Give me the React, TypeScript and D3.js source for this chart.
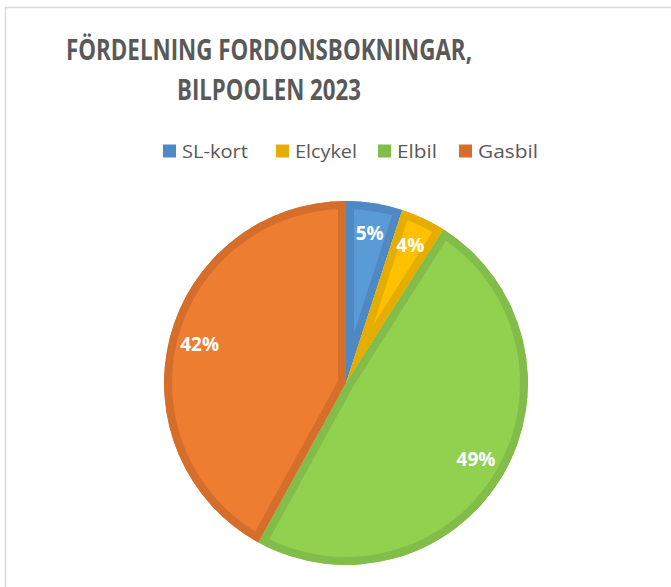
import React from "react";
import * as d3 from "d3";

const categories = ["SL-kort", "Elcykel", "Elbil", "Gasbil"];
const shares = [5, 4, 49, 42];
const fills = ["#5B9BD5", "#FFC000", "#92D050", "#ED7D31"];
const edges = ["#4F89C4", "#E6AC00", "#81BD48", "#D66E2B"];
const titleLines = ["FÖRDELNING FORDONSBOKNINGAR,", "BILPOOLEN 2023"];

const W = 671;
const H = 587;
const cx = 346;
const cy = 383;
const R = 182;
const band = 8;

const App = () => {
  const pie = d3
    .pie<number>()
    .sort(null)
    .value((d) => d)
    .startAngle(0)
    .endAngle(2 * Math.PI);
  const arcs = pie(shares);
  const arc = d3.arc<d3.PieArcDatum<number>>().innerRadius(0).outerRadius(R);
  const labelArc = d3
    .arc<d3.PieArcDatum<number>>()
    .innerRadius(R * 0.83)
    .outerRadius(R * 0.83);

  // legend: square + label
  const legendX = [163, 276, 378, 459];
  const legendW = [66, 62, 40, 60];

  return (
    <svg
      width={W}
      height={H}
      style={{ position: "absolute", left: 0, top: 0, display: "block", background: "#fff" }}
    >
      <rect x={5.5} y={7.5} width={720} height={640} fill="#fff" stroke="#D9D9D9" strokeWidth={1.5} />
      <g fill="#595959" fontFamily="'Open Sans', sans-serif" fontWeight={700} textAnchor="middle">
        <text x={269} y={60} fontSize={28} textLength={406} lengthAdjust="spacingAndGlyphs">
          {titleLines[0]}
        </text>
        <text x={269} y={100} fontSize={28} textLength={184} lengthAdjust="spacingAndGlyphs">
          {titleLines[1]}
        </text>
      </g>
      <g fontFamily="'Open Sans', sans-serif" fontSize={19} fill="#595959">
        {categories.map((c, i) => (
          <g key={c} transform={`translate(${legendX[i]},151)`}>
            <rect x={0} y={-6.5} width={13} height={13} fill={edges[i]} />
            <text x={19} y={7} textLength={legendW[i]} lengthAdjust="spacingAndGlyphs">
              {c}
            </text>
          </g>
        ))}
      </g>
      <defs>
        {arcs.map((a, i) => (
          <clipPath id={`slice-${i}`} key={i}>
            <path d={arc(a) ?? ""} transform={`translate(${cx},${cy})`} />
          </clipPath>
        ))}
      </defs>
      {arcs.map((a, i) => (
        <g key={i} clipPath={`url(#slice-${i})`}>
          <path
            d={arc(a) ?? ""}
            transform={`translate(${cx},${cy})`}
            fill={fills[i]}
            stroke={edges[i]}
            strokeWidth={band * 2}
            strokeLinejoin="miter"
          />
        </g>
      ))}
      <g
        fontFamily="'Open Sans', sans-serif"
        fontWeight={700}
        fontSize={19}
        fill="#fff"
        textAnchor="middle"
      >
        {arcs.map((a, i) => {
          const [x, y] = labelArc.centroid(a);
          return (
            <text key={i} x={cx + x} y={cy + y + 6}>
              {`${shares[i]}%`}
            </text>
          );
        })}
      </g>
    </svg>
  );
};

export default App;
